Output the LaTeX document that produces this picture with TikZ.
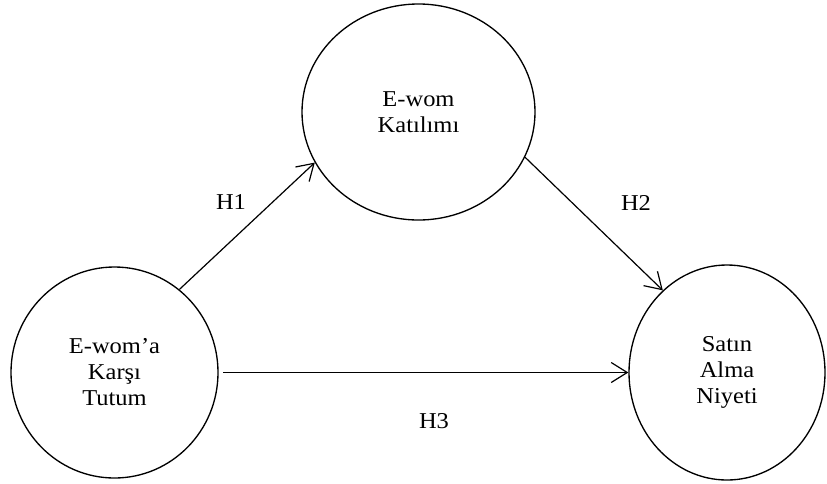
\documentclass[tikz,border=0pt]{standalone}
\usepackage{fontspec}
\setmainfont{Liberation Serif}[FakeStretch=1.08]
\usetikzlibrary{arrows.meta,shapes.geometric}
\begin{document}
\begin{tikzpicture}[x=0.75pt,y=-0.75pt,
  construct/.style={draw, ellipse, line width=1pt, align=center, inner sep=0pt,
    font=\fontsize{17}{19.5}\selectfont},
  link/.style={line width=0.9pt, -{Straight Barb[length=12pt,width=15pt]}},
  hyp/.style={font=\fontsize{17}{19}\selectfont, inner sep=0pt}]
\useasboundingbox (0,0) rectangle (827,483);

% constructs
\node[construct, minimum width=155.25pt, minimum height=158.25pt] (att) at (114.5,372.5)
  {E-wom’a\\Karşı\\Tutum};
\node[construct, minimum width=174.75pt, minimum height=162pt] (eng) at (418.5,112)
  {E-wom\\Katılımı};
\node[construct, minimum width=147pt, minimum height=161.25pt] (int) at (727,372.5)
  {Satın\\Alma\\Niyeti};

% hypothesised paths
\draw[link] (att.52.5) -- (eng.206.7);
\draw[link] (eng.-23.4) -- (int.128.5);
\draw[link, shorten <=3.5pt] (att.east) -- (int.west);

% path labels
\node[hyp] (h1) at (231,202) {H1};
\node[hyp] (h2) at (636,203) {H2};
\node[hyp] (h3) at (434,421) {H3};
\end{tikzpicture}
\end{document}
